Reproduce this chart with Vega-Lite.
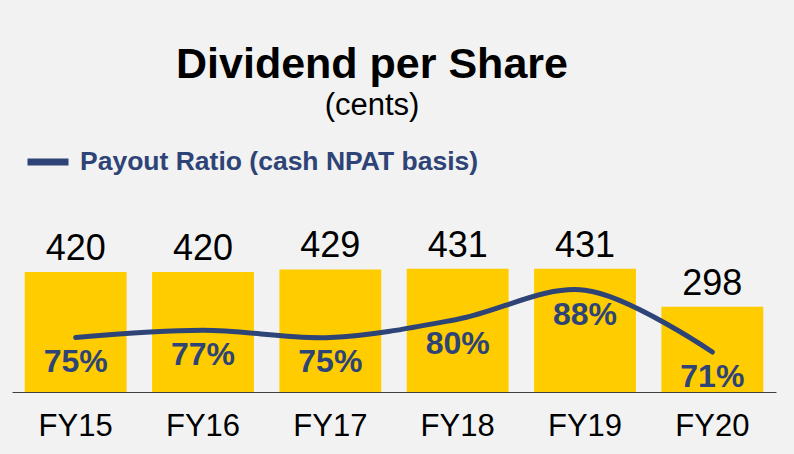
{
  "$schema": "https://vega.github.io/schema/vega-lite/v6.json",
  "width": 764,
  "height": 200,
  "autosize": {"type": "none"},
  "padding": {"left": 12, "top": 192, "right": 18, "bottom": 62},
  "background": "#F2F2F2",
  "config": {"view": {"stroke": null}, "font": "Liberation Sans"},
  "title": {
    "text": "Dividend per Share",
    "subtitle": "(cents)",
    "anchor": "middle",
    "font": "Liberation Sans",
    "fontSize": 43,
    "fontWeight": "bold",
    "color": "#000000",
    "subtitleFont": "Liberation Sans",
    "subtitleFontSize": 31,
    "subtitleColor": "#000000",
    "subtitlePadding": 4,
    "dx": -22,
    "offset": 17
  },
  "data": {
    "values": [
      {"fy": "FY15", "dps": 420, "payout": 0.75},
      {"fy": "FY16", "dps": 420, "payout": 0.77},
      {"fy": "FY17", "dps": 429, "payout": 0.75},
      {"fy": "FY18", "dps": 431, "payout": 0.80},
      {"fy": "FY19", "dps": 431, "payout": 0.88},
      {"fy": "FY20", "dps": 298, "payout": 0.71}
    ]
  },
  "encoding": {
    "x": {
      "field": "fy",
      "type": "nominal",
      "sort": null,
      "scale": {"paddingInner": 0.2, "paddingOuter": 0.1},
      "axis": {
        "title": null,
        "labelAngle": 0,
        "labelFont": "Liberation Sans",
        "labelFontSize": 31,
        "labelColor": "#000000",
        "ticks": false,
        "domainColor": "#404040",
        "domainWidth": 1.2,
        "labelPadding": 19
      }
    }
  },
  "layer": [
    {
      "layer": [
        {
          "mark": {"type": "bar", "color": "#FFCC00"},
          "encoding": {
            "y": {"field": "dps", "type": "quantitative", "scale": {"domain": [0, 688.5]}, "axis": null}
          }
        },
        {
          "mark": {"type": "text", "fontSize": 36, "baseline": "alphabetic", "dy": -12, "color": "#000000", "font": "Liberation Sans"},
          "encoding": {
            "y": {"field": "dps", "type": "quantitative"},
            "text": {"field": "dps", "type": "quantitative", "format": "d"}
          }
        }
      ]
    },
    {
      "layer": [
        {
          "mark": {"type": "line", "interpolate": "catmull-rom", "strokeWidth": 5, "strokeCap": "round"},
          "encoding": {
            "y": {"field": "payout", "type": "quantitative", "scale": {"domain": [0.607, 1.1235]}, "axis": null},
            "color": {
              "datum": "Payout Ratio (cash NPAT basis)",
              "type": "nominal",
              "scale": {"range": ["#2E4476"]},
              "legend": {
                "title": null,
                "orient": "none",
                "legendX": 12,
                "legendY": -54,
                "padding": 0,
                "symbolType": "stroke",
                "symbolSize": 1681,
                "symbolStrokeWidth": 7,
                "labelFont": "Liberation Sans",
                "labelFontSize": 26.5,
                "labelFontWeight": "bold",
                "labelColor": "#2E4476",
                "labelOffset": 8,
                "labelLimit": 600
              }
            }
          }
        },
        {
          "mark": {"type": "text", "fontSize": 32, "fontWeight": "bold", "color": "#2E4476", "baseline": "alphabetic", "dy": 35, "font": "Liberation Sans"},
          "encoding": {
            "y": {"field": "payout", "type": "quantitative"},
            "text": {"field": "payout", "type": "quantitative", "format": ".0%"}
          }
        }
      ]
    }
  ],
  "resolve": {"scale": {"y": "independent"}}
}
